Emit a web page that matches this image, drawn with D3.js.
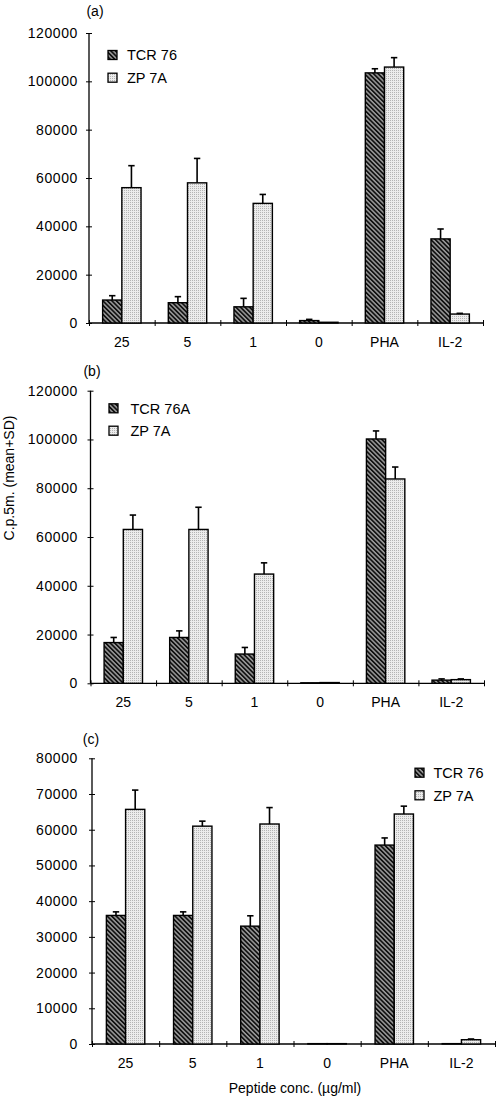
<!DOCTYPE html>
<html>
<head>
<meta charset="utf-8">
<script src="https://cdn.jsdelivr.net/npm/d3@7"></script>
<style>
  html, body { margin: 0; padding: 0; background: #fff; }
  svg { display: block; font-family: "Liberation Sans", Arial, sans-serif; }
</style>
</head>
<body>
<svg id="chart" width="496" height="1098"></svg>
<script>
// ---------- data ----------
const categories = ["25", "5", "1", "0", "PHA", "IL-2"];

const aSeriesNames = ["TCR 76", "ZP 7A"];
const aTcr   = [9500, 8400, 6700, 1000, 103500, 34800];
const aTcrSd = [1800, 2500, 3500, 500, 1700, 4100];
const aZp    = [56000, 58000, 49500, 300, 105900, 3700];
const aZpSd  = [9100, 10100, 3700, 0, 3900, 300];

const bSeriesNames = ["TCR 76A", "ZP 7A"];
const bTcr   = [16700, 18800, 12000, 200, 100200, 1300];
const bTcrSd = [2100, 2700, 2700, 0, 3300, 500];
const bZp    = [63100, 63100, 44800, 300, 83800, 1500];
const bZpSd  = [5900, 9100, 4600, 0, 4900, 300];

const cSeriesNames = ["TCR 76", "ZP 7A"];
const cTcr   = [36000, 36000, 33000, 100, 55700, 100];
const cTcrSd = [1000, 1000, 2900, 0, 2000, 0];
const cZp    = [65700, 61000, 61600, 100, 64400, 1200];
const cZpSd  = [5400, 1400, 4600, 0, 2200, 200];

const abTicks = [0, 20000, 40000, 60000, 80000, 100000, 120000];
const cTicks  = [0, 10000, 20000, 30000, 40000, 50000, 60000, 70000, 80000];

const xTitle = "Peptide conc. (\u00B5g/ml)";
const yTitle = "C.p.5m. (mean+SD)";

// ---------- drawing ----------
const svg = d3.select("#chart");
const defs = svg.append("defs");

const hatch = defs.append("pattern")
  .attr("id", "hatch").attr("patternUnits", "userSpaceOnUse")
  .attr("width", 3.2).attr("height", 3.2)
  .attr("patternTransform", "rotate(-45)");
hatch.append("rect").attr("width", 3.2).attr("height", 3.2).attr("fill", "#9a9a9a");
hatch.append("rect").attr("width", 1.7).attr("height", 3.2).attr("fill", "#111");

const dots = defs.append("pattern")
  .attr("id", "dots").attr("patternUnits", "userSpaceOnUse")
  .attr("width", 2).attr("height", 2);
dots.append("rect").attr("width", 2).attr("height", 2).attr("fill", "#ececec");
dots.append("rect").attr("width", 1).attr("height", 1).attr("fill", "#b4b4b4");

const fills = ["url(#hatch)", "url(#dots)"];
const FONT = 14;

function drawPanel(p) {
  const g = svg.append("g");
  const y = d3.scaleLinear().domain([0, p.max]).range([p.y0, p.yTop]);
  const x = d3.scaleBand().domain(categories).range([p.x0, p.x1]);
  const xb = d3.scaleLinear().domain([0, categories.length]).range([p.x0, p.x1]);
  const barW = 19.2;

  // y axis
  const ya = g.append("g").attr("transform", `translate(${p.x0},0)`)
    .call(d3.axisLeft(y).tickValues(p.ticks).tickSize(3).tickPadding(p.x0 - 78 - 3)
      .tickFormat(d => String(d)));
  ya.select(".domain").attr("stroke", "#000").attr("stroke-width", 1.3).attr("d", `M0,${p.yTop}V${p.y0}`);
  ya.selectAll(".tick line").attr("x1", 3).attr("x2", -3).attr("stroke", "#000");
  ya.selectAll(".tick text").attr("font-size", FONT).attr("fill", "#000")
    .attr("font-family", "Liberation Sans, Arial, sans-serif").attr("letter-spacing", 0.6);

  // x axis (boundaries)
  const xa = g.append("g").attr("transform", `translate(0,${p.y0})`)
    .call(d3.axisBottom(xb).tickValues(d3.range(categories.length + 1)).tickSize(3).tickFormat(""));
  xa.select(".domain").attr("stroke", "#000").attr("stroke-width", 1.3).attr("d", `M${p.x0},0H${p.x1}`);
  xa.selectAll(".tick line").attr("y1", -3).attr("y2", 3).attr("stroke", "#000");

  // category labels
  const xl = g.append("g").attr("transform", `translate(0,${p.y0})`)
    .call(d3.axisBottom(x).tickSize(0).tickPadding(14));
  xl.select(".domain").remove();
  xl.selectAll(".tick text").attr("font-size", FONT).attr("fill", "#000")
    .attr("font-family", "Liberation Sans, Arial, sans-serif");

  const series = [p.s1, p.s2];
  const sds = [p.sd1, p.sd2];
  series.forEach((vals, si) => {
    const bx = (c) => x(c) + x.bandwidth() / 2 - barW + si * barW;
    g.append("g").selectAll("rect").data(categories).join("rect")
      .attr("x", c => bx(c))
      .attr("y", (c, i) => y(vals[i]))
      .attr("width", barW)
      .attr("height", (c, i) => p.y0 - y(vals[i]))
      .attr("fill", fills[si])
      .attr("stroke", "#000").attr("stroke-width", 1.4);
    const eg = g.append("g");
    categories.forEach((c, i) => {
      if (sds[si][i] <= 0) return;
      const cx = bx(c) + barW / 2;
      eg.append("line").attr("x1", cx).attr("x2", cx)
        .attr("y1", y(vals[i])).attr("y2", y(vals[i] + sds[si][i]))
        .attr("stroke", "#000").attr("stroke-width", 1.6);
      eg.append("line").attr("x1", cx - 3.2).attr("x2", cx + 3.2)
        .attr("y1", y(vals[i] + sds[si][i])).attr("y2", y(vals[i] + sds[si][i]))
        .attr("stroke", "#000").attr("stroke-width", 1.6);
    });
  });

  // panel label
  g.append("text").attr("x", p.labX).attr("y", p.labY).attr("text-anchor", "middle")
    .attr("font-size", FONT).text(p.label);

  // legend
  p.names.forEach((n, i) => {
    const cy = p.legY[i];
    g.append("rect").attr("x", p.legX).attr("y", cy - 4.5).attr("width", 9).attr("height", 9)
      .attr("fill", fills[i]).attr("stroke", "#000").attr("stroke-width", 1.3);
    g.append("text").attr("x", p.legTx).attr("y", cy).attr("dy", "0.36em")
      .attr("font-size", 14.5).text(n);
  });
}

drawPanel({ label: "(a)", labX: 95, labY: 16, max: 120000, ticks: abTicks,
  x0: 89, x1: 483, yTop: 33, y0: 323, s1: aTcr, sd1: aTcrSd, s2: aZp, sd2: aZpSd,
  names: aSeriesNames, legX: 108, legTx: 127, legY: [55, 77.7] });

drawPanel({ label: "(b)", labX: 92, labY: 376, max: 120000, ticks: abTicks,
  x0: 90.5, x1: 484, yTop: 390.7, y0: 683.3, s1: bTcr, sd1: bTcrSd, s2: bZp, sd2: bZpSd,
  names: bSeriesNames, legX: 109, legTx: 130.5, legY: [408.3, 430.7] });

drawPanel({ label: "(c)", labX: 91, labY: 744, max: 80000, ticks: cTicks,
  x0: 92, x1: 495, yTop: 758.3, y0: 1044, s1: cTcr, sd1: cTcrSd, s2: cZp, sd2: cZpSd,
  names: cSeriesNames, legX: 415, legTx: 433.5, legY: [772.7, 795.3] });

// axis titles
svg.append("text").attr("x", 295).attr("y", 1093).attr("text-anchor", "middle")
  .attr("font-size", FONT).text(xTitle);
svg.append("text").attr("transform", "translate(14,478) rotate(-90)").attr("text-anchor", "middle")
  .attr("font-size", FONT).text(yTitle);
</script>
</body>
</html>
